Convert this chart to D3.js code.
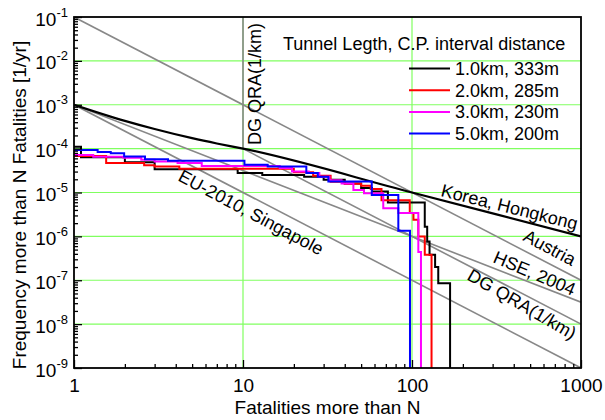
<!DOCTYPE html>
<html>
<head>
<meta charset="utf-8">
<script src="https://cdn.jsdelivr.net/npm/d3@7"></script>
<style>
  body { margin: 0; background: #fff; }
  text { font-family: "Liberation Sans", Arial, sans-serif; fill: #000; }
</style>
</head>
<body>
<div id="chart"></div>
<script>
// values: [N, frequency]
const series1km = [[1, 1.1e-4], [1.1, 6.4e-5], [2, 4.9e-5], [3, 3.4e-5], [9.3, 2.8e-5], [13, 2.5e-5], [23, 2.3e-5],
    [30, 1.95e-5], [40, 1.6e-5], [50, 1.26e-5], [58, 1.05e-5], [72, 5.9e-6], [119, 1.66e-6], [123, 7.6e-7],
    [127, 3.8e-7], [137, 2.0e-7], [143, 8.5e-8], [168, 1e-9]];
const series2km = [[1, 6.8e-5], [1.55, 4.7e-5], [2.6, 4.2e-5], [3, 3.9e-5], [4.2, 3.5e-5], [20, 2.9e-5], [26, 2.4e-5],
    [33, 1.75e-5], [40, 1.58e-5], [50, 1.42e-5], [57, 1.2e-5], [66, 6.7e-6], [97, 3.4e-6], [102, 2.4e-6],
    [109, 1.0e-6], [119, 3.8e-7], [130.5, 1e-9]];
const series3km = [[1, 7.2e-5], [1.3, 6.5e-5], [1.96, 6.2e-5], [2.5, 5.6e-5], [3, 5.1e-5], [4.1, 4.7e-5], [5.7, 4.0e-5],
    [16.5, 3.6e-5], [19.5, 3.0e-5], [24.5, 2.8e-5], [28.3, 2.3e-5], [32.5, 1.9e-5], [38.3, 1.6e-5], [45, 1.14e-5],
    [52, 9.6e-6], [67.6, 4.4e-6], [83, 3.4e-6], [109, 4.4e-7], [113, 1e-9]];
const series5km = [[1, 9.3e-5], [1.38, 8.4e-5], [1.65, 7.8e-5], [1.98, 6.6e-5], [2.63, 5.7e-5], [3.6, 5.3e-5],
    [10.2, 4.3e-5], [14, 3.9e-5], [23.7, 2.8e-5], [27.7, 2.3e-5], [32, 1.78e-5], [57.8, 8.8e-6], [83, 1.35e-6],
    [97.3, 1e-9]];
const seriesLabels = ["1.0km, 333m", "2.0km, 285m", "3.0km, 230m", "5.0km, 200m"];
const seriesColors = ["#000000", "#ff0000", "#ff00ff", "#0000ff"];

const koreaLine = [[1, 1e-3], [2, 4.3e-4], [3, 2.8e-4], [5, 1.73e-4], [7, 1.31e-4], [10, 1e-4], [100, 1e-5], [1000, 1e-6]];
const austriaLine = [[1, 1e-1], [1000, 1e-7]];
const hseLine = [[1, 1e-3], [1000, 3.16e-8]];
const dgQraLine = [[10, 1e-1], [10, 1e-4], [1000, 1e-8]];
const euLine = [[1, 1e-3], [1000, 1e-9]];

const xMajor = [1, 10, 100, 1000];
const yMajor = [1e-9, 1e-8, 1e-7, 1e-6, 1e-5, 1e-4, 1e-3, 1e-2, 1e-1];

const w = 605, h = 420;
const mLeft = 74, mRight = 581, mTop = 17, mBottom = 368;

const svg = d3.select("#chart").append("svg").attr("width", w).attr("height", h);

const x = d3.scaleLog().domain([1, 1000]).range([mLeft, mRight]);
const y = d3.scaleLog().domain([1e-9, 1e-1]).range([mBottom, mTop]);
const isMajor = d => Math.abs(Math.log10(d) - Math.round(Math.log10(d))) < 1e-6;

svg.append("clipPath").attr("id", "plot-clip")
    .append("rect").attr("x", mLeft).attr("y", mTop).attr("width", mRight - mLeft).attr("height", mBottom - mTop);

// grid
svg.append("g").selectAll("line").data(yMajor.slice(1, -1)).enter().append("line")
    .attr("x1", mLeft).attr("x2", mRight)
    .attr("y1", d => y(d)).attr("y2", d => y(d))
    .style("stroke", "#80ff60").style("stroke-width", 1.2);
svg.append("g").selectAll("line").data(xMajor.slice(1, -1)).enter().append("line")
    .attr("x1", d => x(d)).attr("x2", d => x(d))
    .attr("y1", mTop).attr("y2", mBottom)
    .style("stroke", "#80ff60").style("stroke-width", 1.2);

const line = d3.line().x(d => x(d[0])).y(d => y(d[1]));
const smoothLine = d3.line().x(d => x(d[0])).y(d => y(d[1])).curve(d3.curveMonotoneX);
const stepLine = d3.line().x(d => x(d[0])).y(d => y(d[1])).curve(d3.curveStepAfter);

const plot = svg.append("g").attr("clip-path", "url(#plot-clip)");

// criteria lines
[austriaLine, hseLine, dgQraLine, euLine].forEach(pts => {
    plot.append("path").datum(pts).attr("d", line)
        .style("fill", "none").style("stroke", "#888").style("stroke-width", 1.6);
});
plot.append("path").datum(koreaLine).attr("d", smoothLine)
    .style("fill", "none").style("stroke", "#000").style("stroke-width", 2.2);

// step curves
[series1km, series2km, series3km, series5km].forEach((pts, i) => {
    plot.append("path").datum(pts).attr("d", stepLine)
        .style("fill", "none").style("stroke", seriesColors[i]).style("stroke-width", 2);
});

// axes
const xAxis = svg.append("g").attr("transform", `translate(0,${mBottom})`)
    .call(d3.axisBottom(x).tickSizeInner(-8).tickSizeOuter(0).tickPadding(11)
        .tickFormat(d => isMajor(d) ? d3.format("d")(d) : ""));
xAxis.select(".domain").remove();
xAxis.selectAll(".tick line").attr("y2", d => isMajor(d) ? -8 : -4).style("stroke-width", 1.3);
xAxis.selectAll("text").style("font-size", "19px").attr("font-family", null);

const yAxis = svg.append("g").attr("transform", `translate(${mLeft},0)`)
    .call(d3.axisLeft(y).tickSizeInner(-8).tickSizeOuter(0).tickFormat(""));
yAxis.select(".domain").remove();
yAxis.selectAll(".tick line").attr("x2", d => isMajor(d) ? 8 : 4).style("stroke-width", 1.3);

const yLabels = svg.append("g").selectAll("text").data(yMajor).enter().append("text")
    .attr("x", mLeft - 6).attr("y", d => y(d) + 8.5)
    .attr("text-anchor", "end")
    .style("font-size", "19px");
yLabels.append("tspan").text("10");
yLabels.append("tspan").text(d => Math.round(Math.log10(d))).attr("dy", -9).style("font-size", "13px");

// frame
svg.append("rect").attr("x", mLeft).attr("y", mTop).attr("width", mRight - mLeft).attr("height", mBottom - mTop)
    .style("fill", "none").style("stroke", "#000").style("stroke-width", 1.8);

// axis titles
svg.append("text").text("Fatalities more than N")
    .attr("x", (mLeft + mRight) / 2).attr("y", 414)
    .attr("text-anchor", "middle").style("font-size", "19px");
svg.append("text").text("Frequency more than N Fatalities [1/yr]")
    .attr("transform", "translate(26,205) rotate(-90)")
    .attr("text-anchor", "middle").style("font-size", "19px");

// line labels
const lineLabels = [
    {text: "DG QRA(1/km)", x: 261, y: 84, angle: -90, anchor: "middle"},
    {text: "Korea, Hongkong", x: 440, y: 196, angle: 14, anchor: "start"},
    {text: "Austria", x: 522, y: 240, angle: 28, anchor: "start"},
    {text: "HSE, 2004", x: 492, y: 262, angle: 23, anchor: "start"},
    {text: "DG QRA(1/km)", x: 466, y: 279, angle: 30, anchor: "start"},
    {text: "EU-2010, Singapole", x: 177, y: 180, angle: 28, anchor: "start"}
];
svg.append("g").selectAll("text").data(lineLabels).enter().append("text")
    .text(d => d.text)
    .attr("transform", d => `translate(${d.x},${d.y}) rotate(${d.angle})`)
    .attr("text-anchor", d => d.anchor)
    .style("font-size", "18px");

// legend
svg.append("text").text("Tunnel Legth, C.P. interval distance")
    .attr("x", 283).attr("y", 50).style("font-size", "18px");
const legend = svg.append("g").selectAll("g").data(seriesLabels).enter().append("g")
    .attr("transform", (d, i) => `translate(409,${68.5 + i * 21.7})`);
legend.append("line").attr("x1", 0).attr("x2", 41)
    .style("stroke", (d, i) => seriesColors[i]).style("stroke-width", 2);
legend.append("text").text(d => d).attr("x", 46).attr("y", 6.5).style("font-size", "18px");
</script>
</body>
</html>
